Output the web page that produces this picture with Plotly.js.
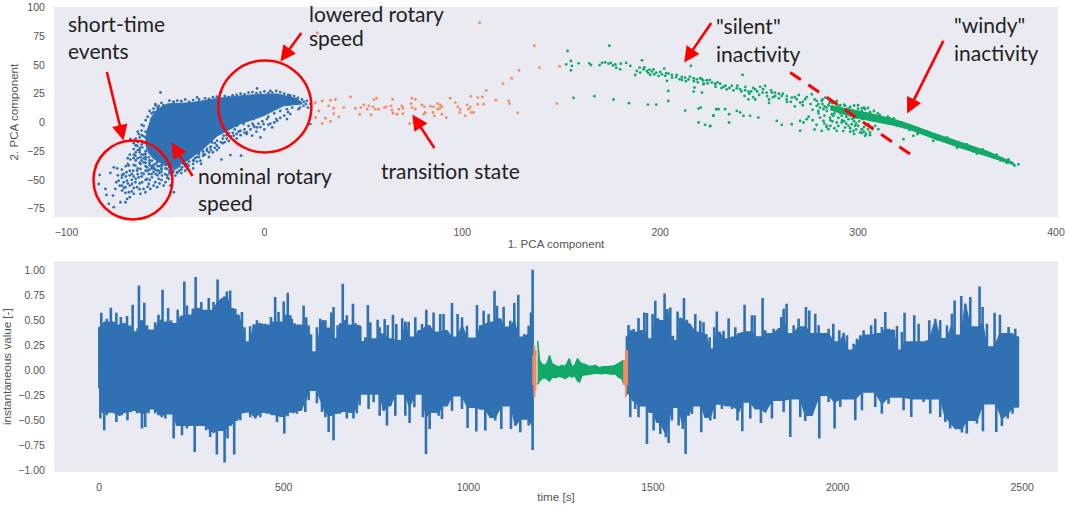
<!DOCTYPE html>
<html>
<head>
<meta charset="utf-8">
<script src="https://cdn.plot.ly/plotly-3.0.1.min.js"></script>
<style>html,body{margin:0;padding:0;background:#fff}#chart{width:1065px;height:507px}</style>
</head>
<body>
<div id="chart"></div>
<script>
// values below: [PCA1, PCA2]
const blueBlob = [[-57.6,3.2],[-54,11.9],[-49,16.2],[-37.4,17.1],[-22.2,21.4],[-7.1,24],[6.6,24.9],[16.7,20.6],[19.2,16.2],[9.6,14.5],[-0.5,5.8],[-12.1,-1.1],[-23.7,-11.5],[-30.8,-22.8],[-38.9,-33.2],[-46,-39.3],[-51.5,-35.9],[-56,-31.5],[-58.6,-26.3],[-60.1,-17.6],[-59.1,-5.5]]
const bluePoints = [[-83.2,-45.6],[-83.7,-53.5],[-80.3,-57.8],[-79.8,-63],[-77.8,-43.9],[-76.1,-39],[-74.4,-39.9],[-78.6,-70.8],[-76.1,-73.7],[-72.7,-69.4],[-70.2,-69.4],[-74.8,-52],[-73.1,-54.9],[-71.1,-52],[-71.9,-45.6],[-69.7,-43.3],[-69.4,-50.6],[-68,-54.9],[-68.5,-60.7],[-70.2,-61.3],[-68,-65],[-66.9,-44.8],[-65.2,-37.5],[-66.3,-41.9],[-67.7,-32.3],[-65.2,-28.9],[-62.6,-30.3],[-61,-34.7],[-64.3,-41.9],[-62.6,-40.4],[-61,-44.8],[-63.5,-47.7],[-65.2,-52],[-61.8,-52],[-59.3,-49.1],[-56.8,-47.7],[-58.4,-44.8],[-55,-44.8],[-53.4,-49.1],[-51.7,-46.2],[-50,-52],[-48.3,-49.1],[-47.2,-44.8],[-49.2,-40.4],[-53.4,-41.9],[-55.9,-40.4],[-59.3,-39],[-62.6,-36.1],[-60.1,-27.4],[-61.8,-21.6],[-64.3,-20.2],[-66,-23.1],[-68.5,-37.5],[-71.1,-44.8],[-73.6,-50.6],[-75.3,-57.8],[-71.9,-59.2],[-66,-62.1],[-62.6,-62.1],[-60.1,-60.7],[-57.6,-57.8],[-54.2,-56.3],[-50.9,-54.9],[-47.5,-54.9],[-45.8,-60.7],[-55.1,-52],[-58.4,-53.5],[-61,-57.8],[-64.3,-56.3],[-66.9,-53.5],[-70.2,-56.3],[-69.4,-66.5],[-76.5,-63.6],[-45,-46.2],[-44.1,-39],[-47.5,-36.1],[-50,-33.2],[-51.7,-37.5],[-54.2,-34.7],[-56.8,-33.2],[-58.4,-30.3],[-55.1,-28.9],[-57.6,-24.5],[-59.3,-20.2],[-63.5,-10.1],[-67.7,-14.4],[-60.1,-13],[-61,-17.3],[-55.9,3],[-57.6,-1.4],[-58.4,-5.7],[-52.5,26.1],[-55.1,16],[-53.4,14.5],[-45.8,18],[-34,21.8],[-22.2,26.1],[-3.7,29.6],[3,27.6],[13.1,21.8],[21.5,18.9],[23.2,16],[23.2,-1.4],[13.1,7.3],[17.3,11.6],[11.4,3],[6.4,1.5],[3.9,-4.3],[-2,-13],[-6.2,-11.5],[-12.1,-7.2],[-10.5,-1.4],[-5.4,-2.8],[1.3,3],[-0.4,-1.4],[-5.4,3],[-13.8,-2.8],[-17.2,-4.3],[-20.6,-11.5],[-23.9,-15.8],[-26.4,-17.3],[-29,-24.5],[-33.2,-27.4],[-32.3,-33.2],[-35.7,-33.2],[-38.2,-37.5],[-41.6,-39],[-44.1,-43.3],[-46.7,-39],[-39.1,-30.3],[-17.2,-28.3],[-21.7,-32.3],[-11.8,-28.9],[-30.7,-27.4],[-27.3,-21.6],[-15.5,-11.5],[-8.8,-8.6],[-3.7,-4.3],[11.4,11.6],[19.8,14.5],[18.2,17.4],[15.6,20.3],
[-58,10],[-56,12],[-59,5],[-60,2],[-61,-3],[-62,-7],[-63,-13],[-62,-16],[-64,-17],[-60,-8],[-62,-2],[-57,8],[-55,15],[-52,17],[-48,19],[-44,19],[-40,20],[-36,19.5],[-30,21],[-26,22],[-20,23],[-16,23.5],[-12,25],[-8,26],[-4,25.5],[0,27],[4,26],[8,26.5],[12,24],[15,23],[19,20],[21,16],[18,13],[14,13],[22,13],
[12,9],[8,10],[5,8],[2,5],[-1,1],[-3,-1],[-6,-1],[-8,-3],[-10,-6],[-13,-8],[-15,-6],[-16,-9],[-18,-9],[-19,-14],[-21,-14],[-22,-17],[-24,-20],[-25,-22],[-27,-24],[-28,-26],[-30,-28],[-31,-25],[-33,-30],[-34,-34],[-36,-36],[-38,-34],[-40,-38],[-42,-41],[-44,-44],[-46,-43],[-48,-42],[-50,-40],[-52,-40],[-54,-38],[-56,-37],[-58,-35],[-60,-32],[-61,-28],[-63,-26],[-64,-24],[-66,-28],[-63,-22],[-59,-23],[-57,-38],[-53,-44],[-49,-46],[-42,-44],[-40,-42],[-36,-40],[-4,-8],[2,-2],[6,3],[10,6],[-9,-10],[-14,-14],[-18,-16],[-24,-24],[-28,-30],[-32,-36],
[-72,-41],[-70,-38],[-68,-42],[-66,-47],[-64,-45],[-62,-44],[-60,-42],[-58,-41],[-56,-43],[-54,-46],[-52,-43],[-50,-45],[-48,-44],[-67,-50],[-65,-49],[-63,-53],[-60,-50],[-58,-50],[-56,-55],[-53,-53],[-52,-50],[-49,-48],[-72,-48],[-70,-47],[-69,-53],[-72,-55],[-74,-46],[-66,-57],[-63,-58],[-59,-56],[-62,-47],[-60,-38],[-58,-37],[-55,-36],[-53,-38],[-52,-41],[-50,-37],[-48,-39],[-46,-41],[-65,-33],[-63,-35],[-61,-31],[-68,-46],[-71,-57],[-67,-60],[-57,-45],[-55,-41],[-64,-40],[-66,-37],[-69,-36],
[-5,-4],[-2,-4],[0,-6],[3,-1],[5,0],[8,4],[-7,-6],[-10,-9],[-12,-11],[-14,-10],[-17,-12],[-19,-11],[-21,-18],[-23,-22],[-20,-17],[-25,-18],[-27,-21],[-29,-23],[-31,-29],[-33,-26],[-35,-31],[-37,-29],[-36,-33],[-39,-36],[-41,-36],[-43,-38],[-45,-40],[-47,-45],[-43,-42],[-39,-40],[-34,-30],[-26,-26],
[-59,-10],[-61,-12],[-64,-8],[-65,-14],[-62,-11],[-66,-18],[-65,-20],[-62,-19],[-63,-24],[-65,-26],[-60,-25],[-62,-28],[-64,-31],[-66,-31],[-68,-28],[-69,-31],[-60,-30],[-58,-33],[-60,-35],[-62,-33],[-56,-39],[-54,-42],[-52,-37],[-48,-37],[-57,-40],[-59,-42],
[-56,9],[-54,13],[-51,15],[-46,18],[-42,18.5],[-38,18],[-33,20],[-28,20.5],[-24,22.5],[-18,22],[-14,24],[-10,24.5],[-6,26.5],[-2,26],[2,25.5],[6,27.5],[10,25],[13,23.5],[17,21.5],[20,18]]
const orangePoints = [[108.8,86.8],[136.4,66.8],[128.6,45.4],[139,47.7],[149.2,48.9],[125,38.5],[120.6,33.8],[112.1,28],[110.1,22.3],[104.4,22.8],[107.8,21.7],[117,19.4],[123.4,18.8],[123.9,16.5],[110.8,15.9],[107.8,15.9],[147.8,16.5],[128,8.4],[56.6,21.1],[55.2,19.7],[50.2,15.3],[48.8,13],[52.7,14.5],[54.9,13.6],[51.9,11.6],[56.1,11.6],[53.9,6.6],[57.8,11.6],[60.6,13],[61.6,13.6],[64.8,20.2],[64,14.5],[64.5,10.7],[65,8.1],[67.9,11.6],[69.5,14.5],[70,12.4],[67,7.2],[70,7.8],[74.6,21.1],[76.3,20],[74.1,16.5],[74.6,13],[76.3,11.6],[73.4,-0.9],[75.4,0],[79.6,15.3],[80.8,13.6],[81.3,8.7],[80.5,7.2],[83.9,14.2],[85.5,13.6],[85.2,8.7],[87.6,16.5],[88.9,15.3],[88.6,12.4],[89.7,13.6],[87.6,11.6],[85.9,5.8],[89.7,7.2],[91.9,4.3],[93.9,21.1],[96.5,17.3],[97.7,13.6],[99,11.6],[102.4,15.3],[103.2,11.6],[104.6,8.7],[105.7,8.7],[101.5,5.8],[98.7,8.7],[104,13.6],[25.8,17.3],[29.2,18.8],[33.4,19.4],[35.9,20],[43.5,22.3],[32.5,14.5],[35,12.4],[40.1,13],[46,12.4],[30.8,3.7],[29.2,-0.9],[25.8,4.3],[37.6,4.9],[33.4,0.9],[35,7.8],[27.5,10.1],[48.2,7.2],[26.8,77.9],[42.4,92.6]]
const greenBand = [[285.9,14.5],[297.6,11],[307.7,7.2],[317.8,3],[326,-1.6],[338,-9.2],[351.5,-17],[365,-24.8],[378.4,-34.8],[379.3,-37.2],[365,-29.2],[351.5,-21.9],[338,-13.9],[326,-6],[317.8,-2.4],[307.7,1.4],[297.6,4.6],[285.9,11]]
const greenPoints = [[153.2,62.2],[152.5,50.6],[154.9,53.5],[155.4,49.2],[154.9,45.4],[158.8,51.5],[156.2,21.4],[164.2,51.5],[165,50],[174.3,66.8],[166.8,22.9],[169.4,50],[170.6,51.8],[172.2,52.4],[173.9,51.2],[175.1,51.8],[176.1,49.5],[177.3,50.6],[177.8,47.7],[180.1,51.2],[179.8,46.3],[182.8,51.8],[184.9,49.2],[176.4,20],[184.2,16.8],[190.8,54.1],[189.6,47.7],[188.2,44.8],[187.4,41.4],[189.9,43.4],[191.6,46.3],[193.3,44.8],[194.6,46],[195.8,44.3],[196.6,46.3],[198,43.4],[193.8,15.6],[198,15.6],[195,41.4],[199.2,40.5],[202,46.9],[200.9,41.9],[202.5,40.5],[204.2,42.5],[205.9,41.4],[203.4,36.2],[204.1,27.5],[204.1,18.8],[208.4,41.4],[210.9,39.6],[209.8,37.6],[212.6,39],[214.3,37.6],[215.5,49.2],[216.9,38.5],[218.5,37.6],[220.2,38.5],[221.6,36.7],[223.6,36.7],[226.1,34.7],[227.8,33.8],[217.3,30.4],[216.9,26.9],[221.1,26],[221.9,33.3],[212.6,10.4],[219.4,12.1],[220.5,13],[226.9,6.1],[219.4,0],[222.7,-2],[225.3,-3.2],[228.3,11.6],[229.5,11.6],[223.5,36.7],[227.8,33.3],[230.3,33.8],[232,31],[233.6,28.9],[236.2,31.8],[238.7,29.8],[240.4,28.9],[241.6,41.4],[242.9,28.1],[244.6,26.9],[242.6,23.1],[244.6,20.2],[248,28.9],[250.5,31],[253,31.8],[251.7,26],[253.8,26],[256.4,26],[258.1,23.1],[261.4,23.1],[263.9,20.2],[266.5,21.7],[269,20.2],[270.7,17.3],[273.2,20.2],[276.6,24.6],[279.1,18.8],[281.6,18.8],[283.3,21.7],[285.8,18.8],[289.2,18.8],[290,14.5],[293.4,14.5],[228.6,11.6],[232.8,11.6],[234.8,7.2],[238.7,10.1],[240.4,8.7],[242.1,5.8],[245.4,5.8],[249.6,4.3],[226.9,5.8],[225.2,-2.9],[234.8,0],[258.9,1.4],[261.4,-2],[266.5,-1.5],[270.7,1.4],[274,2.9],[270.7,-7.2],[272.4,0],[279.9,10.1],[280.8,4.3],[282.5,1.4],[284.2,-2.9],[285.8,4.3],[287.5,5.8],[289.2,0],[291.7,5.8],[294.3,8.7],[295.1,2.9],[296.8,-1.5],[299.3,4.3],[301.8,10.1],[303.5,11.6],[285,-5.8],[289.2,-7.2],[293.4,-4.4],[297.6,-7.2],[301.8,-5.8],[303.5,-11.6],[306,-8.7],[308.6,-2.9],[305.2,-1.5],[281.6,-7.2],[310.2,-5.8],[322.9,-14.5],[327.9,-11.6],[279.1,14.5],[280.8,13],[282.5,11.6],[284.2,10.1],[286.7,7.2],[291.7,0],[295.1,-2.9],[298.5,-2.9],[301,-8.7],[282,16],[284,13],[285.5,17],[287,14],[288,11],[289,16],[290.5,12],[291,8],[292,11],[293,15.5],[294,5],[295,12],[296,9],[297,3],[298,7],[299,-1],[300,7.5],[300.5,1],[302,3],[303,-4],[304,6],[305,-6],[306,2],[304,-10],[302,-9],[307,-4],[308,6],[296,13.5],[298,14.8],[300,15],[302,12.5],[305,12.7],[310,8],[287,1],[284,-4],[278,-6],[290,-3],[293,1],[292.5,-7.5],[298,-10],[275,5],[277,11],[272,15],[268,14],[264,18],[260,25],[257,22],[255,20],[247,22],[246,27],[316,3.5],[324,-3],[331,-6],[345,-15],[358,-25],[372,-33],[381,-36.5],[379,-37.5],
[192,48],[194,43],[197,42],[200,44],[203,43],[206,39],[208,39.5],[211,37],[213,36],[215,40],[217,36],[219,35],[221,38],[222,34],[224,34],[225,37],[228,31],[229,35],[231,30],[233,32],[235,30],[237,28],[239,32],[241,27],[243,31],[245,25],[247,30],[249,27],[250,24],[252,29],[254,23],[256,28],[258,26],[260,21],[262,25],[264,23],[266,18],[268,22],[270,24],[272,18],[274,22],[276,16],[278,20],[280,16],[282,20],[283,14],[285,15],[287,17],[289,13],[291,15],[293,11],[248,20],[255,17],[280,8],[277,2],[283,6],[286,2],[288,8],[290,4],[292,2],[294,-1],[296,-5],[298,1],[300,-3],[302,-6],[304,-2],[306,-11],[303,-8],[299,-6],[296,-8],[288,-5],[286,-3],[283,-1],[279,-2],[308,10],[303,13],[300,12],[306,9],[311,6.5],[315,5],[318,3.5],[322,0],[326,-6.5],[330,-10],[335,-8],[340,-14.5],[345,-13],[350,-22],[355,-19],[360,-27],[363,-23.5],[368,-30],[370,-28],[375,-35],[376,-32],[338,-16],[320,-3],[298,4]]

// time signal peaks: [time s, value]
const waveTopA = [[0.8,.43],[6,.577],[14,.48],[21,.517],[32,.627],[39.6,.48],[47,.577],[53,.45],[59,.533],[68,.47],[75.7,.543],[84.7,.44],[91,.657],[98,.383],[104.6,.42],[108,.85],[115,.5],[122.6,.677],[130,.45],[136,.4],[143,.4],[152,.48],[161,.557],[167,.5],[172,.807],[180,.48],[187,.623],[195,.5],[202,.467],[213,.607],[222,.54],[231,.89],[238,.65],[247,.55],[254,.62],[261.6,.933],[270,.62],[277,.683],[285,.6],[297,.723],[303,.6],[310,.683],[321,.91],[333,.717],[339,.74],[346,.79],[355,.8],[363,.62],[369,.617],[378,.55],[387,.583],[394,.43],[400,.283],[409,.44],[418.7,.46],[427.7,.5],[436.7,.47],[450,.467],[459,.45],[465.6,.533],[471,.48],[477,.733],[486,.583],[493,.48],[500,.69],[506,.55],[511,.777],[518,.55],[522,.517],[529,.47],[536,.45],[545,.45],[554,.65],[561,.53],[567.6,.45],[574,.36],[581,.183],[590,.43],[599,.517],[606,.5],[613,.5],[622,.42],[629,.58],[635,.633],[639.8,.317],[646,.45],[653,.47],[660,.867],[666,.5],[671,.55],[680,.45],[687.7,.667],[695,.47],[703,.45],[707.6,.447],[714.8,.287],[721,.33],[728,.653],[734.6,.48],[743.6,.313],[754.5,.507],[760,.43],[766,.363],[773.5,.513],[781.6,.453],[789,.313],[796,.557],[805,.463],[814,.297],[821,.52],[829.4,.487],[838.4,.487],[847.5,.33],[856.5,.53],[865.5,.397],[874.5,.463],[886.3,.607],[895,.447],[906,.58],[915,.38],[924,.563],[933,.563],[942,.397],[955.8,.673],[964.8,.33],[971,.563],[983,.53],[996.4,.447],[1010,.32],[1023.5,.653],[1032.5,.447],[1041.5,.597],[1055,.563],[1067,.48],[1071,.797],[1077.6,.647],[1086.6,.513],[1095.7,.637],[1104.7,.43],[1113.7,.497],[1124.6,.673],[1135.4,.757],[1145.3,.33],[1151.6,.363],[1163.4,.447],[1169.7,.58],[1174.2,1.007]]
const waveBottomA = [[0.8,-.18],[3.5,-.483],[9,-.42],[14,-.6],[21,-.45],[30,-.417],[39.6,-.43],[47,-.517],[56,-.45],[62,-.45],[70,-.42],[77,-.5],[86,-.42],[93.7,-.4],[102.8,-.43],[110,-.42],[116.3,-.583],[125,-.567],[134,-.43],[143,-.383],[152,-.43],[161,-.45],[170,-.47],[179.5,-.483],[190,-.433],[202,-.683],[211,-.55],[224.6,-.65],[238,-.583],[249,-.55],[259,-.817],[270,-.55],[278.8,-.55],[290,-.6],[301,-.667],[310,-.62],[319,-.843],[328,-.6],[340,-.923],[348,-.683],[357,-.55],[366,-.843],[373.5,-.5],[382.6,-.5],[391.6,-.43],[400.6,-.417],[409.7,-.47],[423,-.483],[436.7,-.47],[445.7,-.42],[454.8,-.433],[468,-.45],[481.8,-.517],[492.7,-.46],[501.7,-.633],[510.7,-.46],[518,-.417],[527,-.43],[536,-.433],[546.8,-.4],[558.6,-.417],[567.6,-.3],[577.5,-.2],[590,-.33],[603.7,-.417],[612.7,-.47],[621.8,-.617],[628,-.45],[635,-.7],[644,-.43],[653,-.433],[662,-.41],[671,-.483],[680,-.42],[689,-.483],[698,-.43],[705.7,-.35],[712,-.237],[721,-.237],[730,-.387],[743.6,-.32],[748,-.237],[760,-.453],[770.7,-.403],[779.8,-.553],[788.8,-.353],[802.3,-.453],[820.4,-.237],[829.4,-.453],[841,-.527],[853.8,-.37],[870,-.237],[877,-.47],[885.4,-.837],[895.3,-.587],[906,-.42],[919.7,-.453],[928.7,-.487],[942.2,-.353],[955.8,-.403],[969.3,-.253],[982.9,-.387],[998,-.577],[1009.9,-.37],[1021.7,-.613],[1032.5,-.387],[1046,-.603],[1059.6,-.47],[1073,-.503],[1089.4,-.587],[1102,-.353],[1115.5,-.587],[1127.3,-.553],[1140.8,-.62],[1154.3,-.487],[1163.4,-.553],[1174.2,-.797]]
const waveTopB = [[1429.6,.34],[1434,.453],[1441,.397],[1447.7,.413],[1455,.38],[1461,.523],[1467.6,.397],[1476.6,.58],[1483.8,.573],[1491,.313],[1499,.563],[1506.4,.697],[1513.6,.52],[1521.7,.497],[1531.6,.77],[1538.9,.613],[1547,.63],[1554,.347],[1560.5,.297],[1566.8,.59],[1574,.52],[1584,.723],[1592,.507],[1599.3,.463],[1614.7,.563],[1621,.38],[1628.2,.497],[1637,.48],[1644.5,.363],[1653.5,.33],[1659.8,.213],[1666,.43],[1673,.59],[1680.6,.38],[1691.4,.397],[1698.6,.313],[1705,.52],[1714,.33],[1723,.43],[1732,.367],[1741,.383],[1748.3,.657],[1755.5,.383],[1768,.55],[1775.4,.55],[1784.4,.333],[1797,.723],[1804,.4],[1813,.367],[1826.8,.417],[1840.4,.417],[1847.6,.533],[1854,.617],[1862,.667],[1869,.367],[1881,.45],[1894.5,.517],[1903.6,.433],[1914.4,.633],[1923.4,.6],[1930.6,.367],[1939.6,.567],[1948.7,.45],[1962.2,.367],[1975.8,.417],[1988.4,.467],[1995.6,.283],[2004.6,.4],[2016.4,.377],[2025.4,.35],[2032.6,.2],[2043.5,.267],[2052.5,.317],[2061.5,.35],[2070.5,.4],[2084,.35],[2091,.45],[2102.1,.517],[2111,.367],[2120,.433],[2129.2,.583],[2138.2,.417],[2151.8,.4],[2160.8,.443],[2167,.2],[2174.3,.383],[2181.5,.577],[2192.4,.283],[2207.7,.55],[2219.5,.467],[2228.5,.283],[2242,.3],[2248.4,.5],[2264.6,.517],[2278,.5],[2287.1,.317],[2296.2,.45],[2309.7,.567],[2317,.7],[2327.8,.35],[2335,.743],[2345.8,.667],[2359.4,.733],[2368.4,.433],[2384.6,.84],[2392.8,.633],[2404.5,.467],[2418,.233],[2425.3,.577],[2439.7,.557],[2449.6,.367],[2463.2,.433],[2472.2,.367],[2481.2,.417],[2488.4,.333]]
const waveBottomB = [[1431.5,-.237],[1438.7,-.47],[1446,-.303],[1452,-.387],[1461,-.47],[1470,-.353],[1483.8,-.737],[1491,-.42],[1501.9,-.603],[1511,-.52],[1520,-.637],[1535,-.67],[1542.5,-.727],[1551.5,-.503],[1560.5,-.37],[1569.6,-.553],[1581,-.587],[1588.5,-.837],[1596.6,-.453],[1605.7,-.437],[1614.7,-.353],[1630.9,-.62],[1641.8,-.47],[1655.3,-.503],[1667,-.487],[1677.9,-.337],[1686.9,-.387],[1698.6,-.353],[1714,-.387],[1729,-.503],[1732,-.417],[1742,-.61],[1754.6,-.317],[1763.7,-.483],[1777.2,-.383],[1792.5,-.527],[1804,-.417],[1822.3,-.483],[1840.4,-.3],[1854,-.417],[1872,-.667],[1885.5,-.283],[1899,-.467],[1912.6,-.507],[1930.6,-.45],[1950.5,-.683],[1962.2,-.25],[1975.8,-.317],[1992,-.583],[2007.3,-.367],[2029.9,-.283],[2048,-.5],[2066,-.4],[2084,-.217],[2102,-.367],[2120,-.433],[2138,-.333],[2165,-.267],[2178.8,-.4],[2199.6,-.467],[2215,-.283],[2233,-.317],[2251,-.433],[2264.6,-.283],[2278,-.467],[2291.7,-.517],[2305,-.583],[2318.8,-.583],[2336.8,-.623],[2350,-.633],[2364,-.5],[2377.4,-.533],[2393.7,-.61],[2409,-.333],[2429.8,-.617],[2445,-.557],[2461,-.483],[2474,-.433],[2488.4,-.367]]
const greenTime = [1187.7,1193,1199.5,1208.5,1214.8,1220,1226.6,1235.6,1244.6,1253.6,1262.7,1269,1273.5,1280.7,1288,1296,1301.5,1307.8,1316.8,1325.8,1334.9,1343.9,1353,1362,1371,1380,1389,1398,1407,1416,1420.6]
const greenHigh = [.293,.1,.06,.05,.083,.15,.067,.05,.033,.05,.04,.083,.117,.033,.05,.117,.083,.067,.06,.04,.04,.05,.027,.033,.033,.04,.04,.05,.067,.083,.1]
const greenLow = [-.14,-.107,-.083,-.073,-.093,-.107,-.067,-.073,-.06,-.067,-.083,-.067,-.05,-.067,-.05,-.107,-.117,-.05,-.05,-.04,-.033,-.027,-.027,-.033,-.027,-.033,-.04,-.033,-.067,-.083,-.133]
const orangeTime = [1176,1179,1182,1422,1427,1430]
const orangeHigh = [.15,.25,.2,.1,.207,.2]
const orangeLow = [-.15,-.27,-.2,-.15,-.267,-.15]

const BLUE = '#3071b3', ORANGE = '#f78a5c', GREEN = '#10a968', RED = '#ff0000'
const INK = '#555555'
const col = (rows, i) => rows.map(r => r[i])

function dots(rows, color) {
    return {x: col(rows, 0), y: col(rows, 1), xaxis: 'x', yaxis: 'y', type: 'scatter', mode: 'markers', marker: {color: color, size: 2.8, line: {width: 0}}}
}
function region(rows, color) {
    return {x: col(rows, 0), y: col(rows, 1), xaxis: 'x', yaxis: 'y', type: 'scatter', mode: 'lines', fill: 'toself', fillcolor: color, line: {color: color, width: 1}}
}
// vertical strokes from zero out to each peak
function strokes(rows, color, width) {
    const x = [], y = []
    rows.forEach(r => { x.push(r[0], r[0], null); y.push(0, r[1], null) })
    return {x: x, y: y, xaxis: 'x2', yaxis: 'y2', type: 'scatter', mode: 'lines', line: {color: color, width: width}}
}
// smallest of three neighbours, so peaks stay separate from the solid body
function lowOfThree(rows) {
    return rows.map((r, i) => {
        const near = [rows[Math.max(i - 1, 0)], r, rows[Math.min(i + 1, rows.length - 1)]].map(n => n[1])
        return [r[0], near.reduce((a, b) => Math.abs(b) < Math.abs(a) ? b : a)]
    })
}
function body(top, bottom) {
    const rows = lowOfThree(top).concat(lowOfThree(bottom).reverse())
    return {x: col(rows, 0), y: col(rows, 1), xaxis: 'x2', yaxis: 'y2', type: 'scatter', mode: 'lines', fill: 'toself', fillcolor: BLUE, line: {color: BLUE, width: 1.5}}
}

const data = [
    region(blueBlob, BLUE), dots(bluePoints, BLUE),
    dots(orangePoints, ORANGE),
    region(greenBand, GREEN), dots(greenPoints, GREEN),
    body(waveTopA, waveBottomA), strokes(waveTopA, BLUE, 2.6), strokes(waveBottomA, BLUE, 2.6),
    body(waveTopB, waveBottomB), strokes(waveTopB, BLUE, 2.6), strokes(waveBottomB, BLUE, 2.6),
    {x: greenTime.concat(greenTime.slice().reverse()), y: greenHigh.concat(greenLow.slice().reverse()), xaxis: 'x2', yaxis: 'y2', type: 'scatter', mode: 'lines', fill: 'toself', fillcolor: GREEN, line: {color: GREEN, width: 1.5}},
    strokes(orangeTime.map((t, i) => [t, orangeHigh[i]]), ORANGE, 2),
    strokes(orangeTime.map((t, i) => [t, orangeLow[i]]), ORANGE, 2)
]

// overlay is placed in picture pixels, so convert to paper fractions
const M = {l: 53.5, r: 7, t: 6.5, b: 35.3}
const W = 1065 - M.l - M.r, H = 507 - M.t - M.b
const px = x => (x - M.l) / W
const py = y => 1 - (y - M.t) / H

const labels = [
    ['short-time', 66, 23], ['events', 66, 50],
    ['lowered rotary', 307, 13], ['speed', 307, 37],
    ['nominal rotary', 196, 175], ['speed', 196, 202],
    ['transition state', 379, 170],
    ['"silent"', 714, 25], ['inactivity', 714, 53],
    ['"windy"', 952, 24], ['inactivity', 952, 52]
]
const arrows = [
    [106, 70, 123, 140], [302, 31, 280, 61], [193, 177, 171, 142],
    [435, 149, 412, 114], [712, 21, 684, 62], [944, 39, 907, 113]
]
const circles = [[93, 140, 172, 219], [218, 60, 311, 152]]

const annotations = labels.map(l => ({
    xref: 'paper', yref: 'paper', x: px(l[1]), y: py(l[2]), xanchor: 'left', yanchor: 'middle',
    text: l[0], showarrow: false, font: {family: 'Lato', size: 21, color: '#222222'}
})).concat(arrows.map(a => ({
    xref: 'paper', yref: 'paper', x: px(a[2]), y: py(a[3]), ax: a[0] - a[2], ay: a[1] - a[3],
    axref: 'pixel', ayref: 'pixel', text: '', showarrow: true, arrowhead: 2, arrowsize: 1.2, arrowwidth: 2.6, arrowcolor: RED, standoff: 0
})))

const shapes = circles.map(c => ({
    type: 'circle', xref: 'paper', yref: 'paper', x0: px(c[0]), x1: px(c[2]), y0: py(c[3]), y1: py(c[1]),
    line: {color: RED, width: 2.5}
}))
shapes.push({type: 'line', xref: 'paper', yref: 'paper', x0: px(790), y0: py(72), x1: px(915), y1: py(157), line: {color: RED, width: 3, dash: '13px,9px'}})

const axisStyle = {
    showgrid: false, zeroline: false, showline: false, ticks: 'outside', ticklen: 6, tickcolor: 'rgba(0,0,0,0)',
    tickfont: {family: 'Liberation Sans', size: 10.5, color: INK}
}
const titleFont = {family: 'Liberation Sans', size: 11.6, color: INK}

const layout = {
    width: 1065, height: 507, margin: M, showlegend: false,
    paper_bgcolor: '#ffffff', plot_bgcolor: '#eaeaf2', hovermode: false,
    xaxis: {...axisStyle, ticklen: 5, domain: [0, 1], anchor: 'y', range: [-106.3, 401], tickvals: [-100, 0, 100, 200, 300, 400], title: {text: '1. PCA component', font: titleFont, standoff: 3}},
    yaxis: {...axisStyle, domain: [0.5482, 1], anchor: 'x', range: [-82.3, 100.5], tickvals: [-75, -50, -25, 0, 25, 50, 75, 100], title: {text: '2. PCA component', font: titleFont, standoff: 6}},
    xaxis2: {...axisStyle, ticklen: 5, domain: [0, 1], anchor: 'y2', range: [-122, 2597], tickvals: [0, 500, 1000, 1500, 2000, 2500], title: {text: 'time [s]', font: titleFont, standoff: 1}},
    yaxis2: {...axisStyle, domain: [0, 0.4529], anchor: 'x2', range: [-1.017, 1.09], tickvals: [-1, -.75, -.5, -.25, 0, .25, .5, .75, 1], tickformat: '.2f', title: {text: 'instantaneous value [-]', font: titleFont, standoff: 6}},
    annotations: annotations,
    shapes: shapes
}

Plotly.newPlot('chart', data, layout, {displayModeBar: false})
</script>
</body>
</html>
